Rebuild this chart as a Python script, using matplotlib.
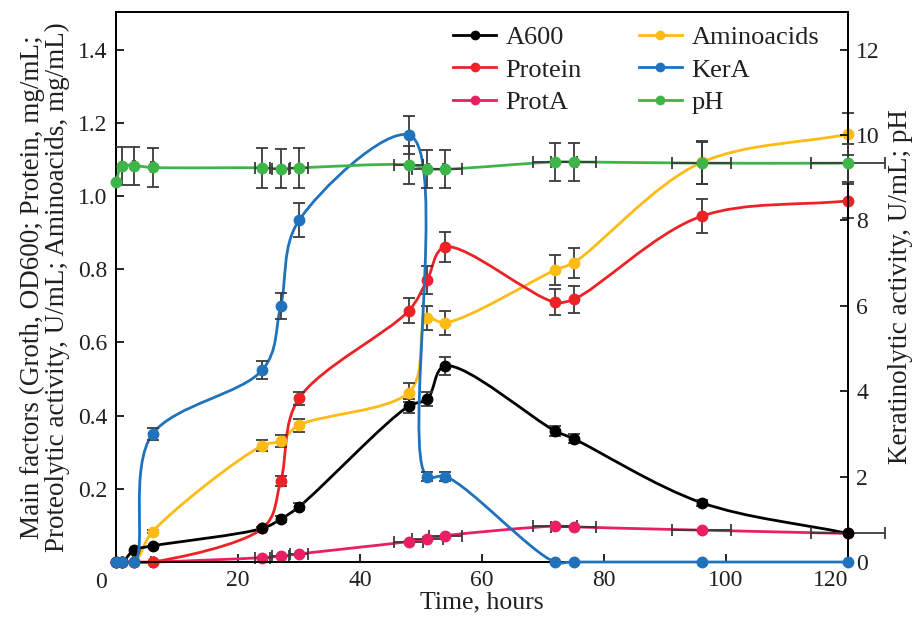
import numpy as np
import matplotlib.pyplot as plt
from matplotlib.path import Path
from matplotlib.patches import PathPatch
from matplotlib.lines import Line2D

plt.rcParams['font.family'] = ['Liberation Serif', 'DejaVu Serif']

# sampling times, hours
time = [0, 1, 3, 6, 24, 27, 30, 48, 51, 54, 72, 75, 96, 120]

# left axis series
a600 = [0, 0, 0.033, 0.044, 0.092, 0.117, 0.151, 0.426, 0.445, 0.536, 0.358, 0.337, 0.162, 0.078]
a600_err = [0, 0, 0, 0, 0.005, 0.008, 0.01, 0.02, 0.02, 0.025, 0.015, 0.012, 0.008, 0]
protein = [0, 0, 0, 0, 0.092, 0.221, 0.447, 0.687, 0.770, 0.861, 0.710, 0.718, 0.945, 0.987]
protein_err = [0, 0, 0, 0, 0, 0.014, 0.018, 0.035, 0.038, 0.042, 0.035, 0.037, 0.046, 0.047]
prota = [0, 0, 0, 0, 0.012, 0.016, 0.022, 0.056, 0.064, 0.072, 0.098, 0.096, 0.087, 0.078]
aminoacids = [0, 0, 0, 0.083, 0.318, 0.331, 0.374, 0.463, 0.666, 0.654, 0.798, 0.818, 1.092, 1.169]
amino_err = [0, 0, 0, 0.005, 0.016, 0.016, 0.018, 0.025, 0.033, 0.033, 0.041, 0.041, 0.059, 0.057]

# right axis series
kera = [0, 0, 0, 3.0, 4.5, 6.0, 8.0, 10.0, 2.0, 2.0, 0, 0, 0, 0]
kera_err = [0, 0, 0, 0.14, 0.21, 0.31, 0.4, 0.45, 0.1, 0.1, 0, 0, 0, 0]
ph = [8.9, 9.28, 9.28, 9.24, 9.23, 9.21, 9.23, 9.30, 9.21, 9.20, 9.37, 9.37, 9.34, 9.34]
ph_err = [0, 0.45, 0.45, 0.46, 0.46, 0.46, 0.46, 0.45, 0.45, 0.45, 0.45, 0.45, 0.49, 0.45]

# horizontal error (time) for ProtA and pH
time_err = [0, 0.05, 0.15, 0.3, 1.2, 1.35, 1.5, 2.4, 2.55, 2.7, 3.6, 3.75, 4.8, 6.0]

c_black = '#000000'
c_red = '#ED2227'
c_mag = '#E91E63'
c_yel = '#FDBB13'
c_blue = '#1F72BC'
c_green = '#3DB548'
c_err = '#3a3a3a'
c_text = '#231F20'

XMAX = 120
YL = 1.503
YR = 12.88


def spline_path(x, y, sx, sy):
    # centripetal catmull-rom through the points, knots in axis units
    pts = np.column_stack([x, y]).astype(float)
    ext = np.vstack([2 * pts[0] - pts[1], pts, 2 * pts[-1] - pts[-2]])
    d = np.linalg.norm(np.diff(ext / np.array([sx, sy]), axis=0), axis=1) ** 0.5
    d = np.maximum(d, 1e-6)
    verts = [pts[0]]
    codes = [Path.MOVETO]
    for i in range(1, len(pts)):
        p0, p1, p2, p3 = ext[i - 1], ext[i], ext[i + 1], ext[i + 2]
        d0, d1, d2 = d[i - 1], d[i], d[i + 1]
        m1 = (p1 - p0) / d0 - (p2 - p0) / (d0 + d1) + (p2 - p1) / d1
        m2 = (p2 - p1) / d1 - (p3 - p1) / (d1 + d2) + (p3 - p2) / d2
        verts += [p1 + m1 * d1 / 3, p2 - m2 * d1 / 3, p2]
        codes += [Path.CURVE4] * 3
    return Path(verts, codes)


def draw_series(ax, y, color, ymax, yerr=None, xerr=None):
    t = np.array(time, dtype=float)
    y = np.array(y, dtype=float)
    ax.add_patch(PathPatch(spline_path(t, y, XMAX, ymax), fill=False,
                           edgecolor=color, lw=2, zorder=3, clip_on=False))
    if yerr is not None:
        e = np.array(yerr)
        m = e > 0
        ax.errorbar(t[m], y[m], yerr=e[m], fmt='none', ecolor=c_err,
                    elinewidth=1.3, capsize=4.5, capthick=1.3, zorder=4, clip_on=False)
    if xerr is not None:
        e = np.array(xerr)
        m = e > 0
        ax.errorbar(t[m], y[m], xerr=e[m], fmt='none', ecolor=c_err,
                    elinewidth=1.3, capsize=4.5, capthick=1.3, zorder=4, clip_on=False)
    ax.plot(t, y, 'o', color=color, ms=7.5, zorder=5, clip_on=False)


fig = plt.figure(figsize=(9.15, 6.17), dpi=100)
ax = fig.add_axes([116 / 915, 1 - 562 / 617, 732 / 915, 550 / 617])
ax2 = ax.twinx()

ax.set_xlim(0, XMAX)
ax.set_ylim(0, YL)
ax2.set_ylim(0, YR)

draw_series(ax, prota, c_mag, YL, xerr=time_err)
draw_series(ax, aminoacids, c_yel, YL, yerr=amino_err)
draw_series(ax, protein, c_red, YL, yerr=protein_err)
draw_series(ax, a600, c_black, YL, yerr=a600_err)
draw_series(ax2, kera, c_blue, YR, yerr=kera_err)
draw_series(ax2, ph, c_green, YR, yerr=ph_err, xerr=time_err)

ax.set_xticks([0, 20, 40, 60, 80, 100, 120])
ax.set_xticklabels(['', '20', '40', '60', '80', '100', '120'])
ax.get_xticklabels()[-1].set_horizontalalignment('right')
ax.set_yticks([0, 0.2, 0.4, 0.6, 0.8, 1.0, 1.2, 1.4])
ax.set_yticklabels(['', '0.2', '0.4', '0.6', '0.8', '1.0', '1.2', '1.4'])
ax2.set_yticks([0, 2, 4, 6, 8, 10, 12])
for a in (ax, ax2):
    a.tick_params(direction='in', length=6, width=1.2, labelsize=17, pad=6,
                  labelcolor=c_text)
    for s in a.spines.values():
        s.set_linewidth(1.3)
ax.text(-0.02, -0.038, '0', transform=ax.transAxes, ha='center', va='center',
        fontsize=17, color=c_text)

ax.set_xlabel('Time, hours', fontsize=18.5, labelpad=0, color=c_text)
ax.set_ylabel('Main factors (Groth, OD600; Protein, mg/mL;\n'
              'Proteolytic activity, U/mL; Aminoacids, mg/mL)',
              fontsize=19.5, linespacing=1.0, labelpad=6, color=c_text)
ax2.set_ylabel('Keratinolytic activity, U/mL; pH', fontsize=19.5, labelpad=6,
               color=c_text)

names = ['A600', 'Protein', 'ProtA', 'Aminoacids', 'KerA', 'pH']
colors = [c_black, c_red, c_mag, c_yel, c_blue, c_green]
handles = [Line2D([], [], color=c, marker='o', ms=6, lw=2) for c in colors]
fig.legend(handles, names, ncol=2, loc='upper left',
           bbox_to_anchor=(429 / 915, 1 - 2 / 617), frameon=False,
           fontsize=19, handlelength=1.65, columnspacing=2.15,
           labelspacing=0.34, handletextpad=0.35, labelcolor=c_text)

fig.savefig('out.png', dpi=100)
